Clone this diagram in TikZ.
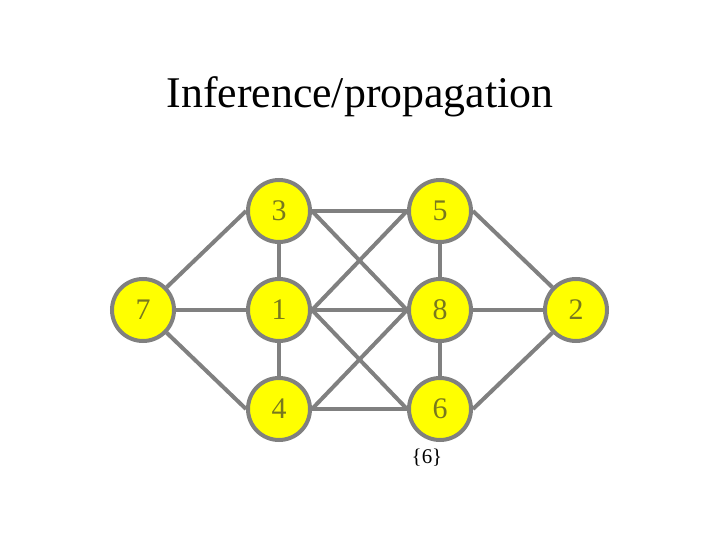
\documentclass[tikz,border=0pt]{standalone}
\usepackage{fontspec}
\setmainfont{Liberation Serif}
\usepackage{xcolor}
\definecolor{nodeline}{RGB}{128,128,128}
\definecolor{nodefill}{RGB}{255,255,0}
\definecolor{nodetext}{RGB}{120,120,30}
\tikzset{
    var/.style={circle, draw=nodeline, fill=nodefill, line width=4bp,
        minimum size=62bp, inner sep=0pt, text=nodetext, font=\fontsize{30}{30}\selectfont},
    link/.style={draw=nodeline, line width=4bp}
}
\begin{document}
\begin{tikzpicture}[x=1bp, y=-1bp]
    \useasboundingbox (0,0) rectangle (720,540);
    \node[font=\fontsize{44}{44}\selectfont, anchor=base] (title) at (360,108) {Inference/propagation};
    \node[var] (n3) at (279,211) {3};
    \node[var] (n5) at (440,211) {5};
    \node[var] (n7) at (143,310) {7};
    \node[var] (n1) at (279,310) {1};
    \node[var] (n8) at (440,310) {8};
    \node[var] (n2) at (576,310) {2};
    \node[var] (n4) at (279,409) {4};
    \node[var] (n6) at (440,409) {6};
    \node[font=\fontsize{21}{21}\selectfont] (sep) at (427,458) {\{6\}};
    \draw[link] (n7) -- (n3.west);
    \draw[link] (n7) -- (n1);
    \draw[link] (n7) -- (n4.west);
    \draw[link] (n3) -- (n5);
    \draw[link] (n3) -- (n1);
    \draw[link] (n3.east) -- (n8.west);
    \draw[link] (n5.west) -- (n1.east);
    \draw[link] (n5) -- (n8);
    \draw[link] (n5.east) -- (n2);
    \draw[link] (n1) -- (n8);
    \draw[link] (n1.east) -- (n6.west);
    \draw[link] (n1) -- (n4);
    \draw[link] (n4.east) -- (n8.west);
    \draw[link] (n4) -- (n6);
    \draw[link] (n8) -- (n6);
    \draw[link] (n8) -- (n2);
    \draw[link] (n6.east) -- (n2);
\end{tikzpicture}
\end{document}
